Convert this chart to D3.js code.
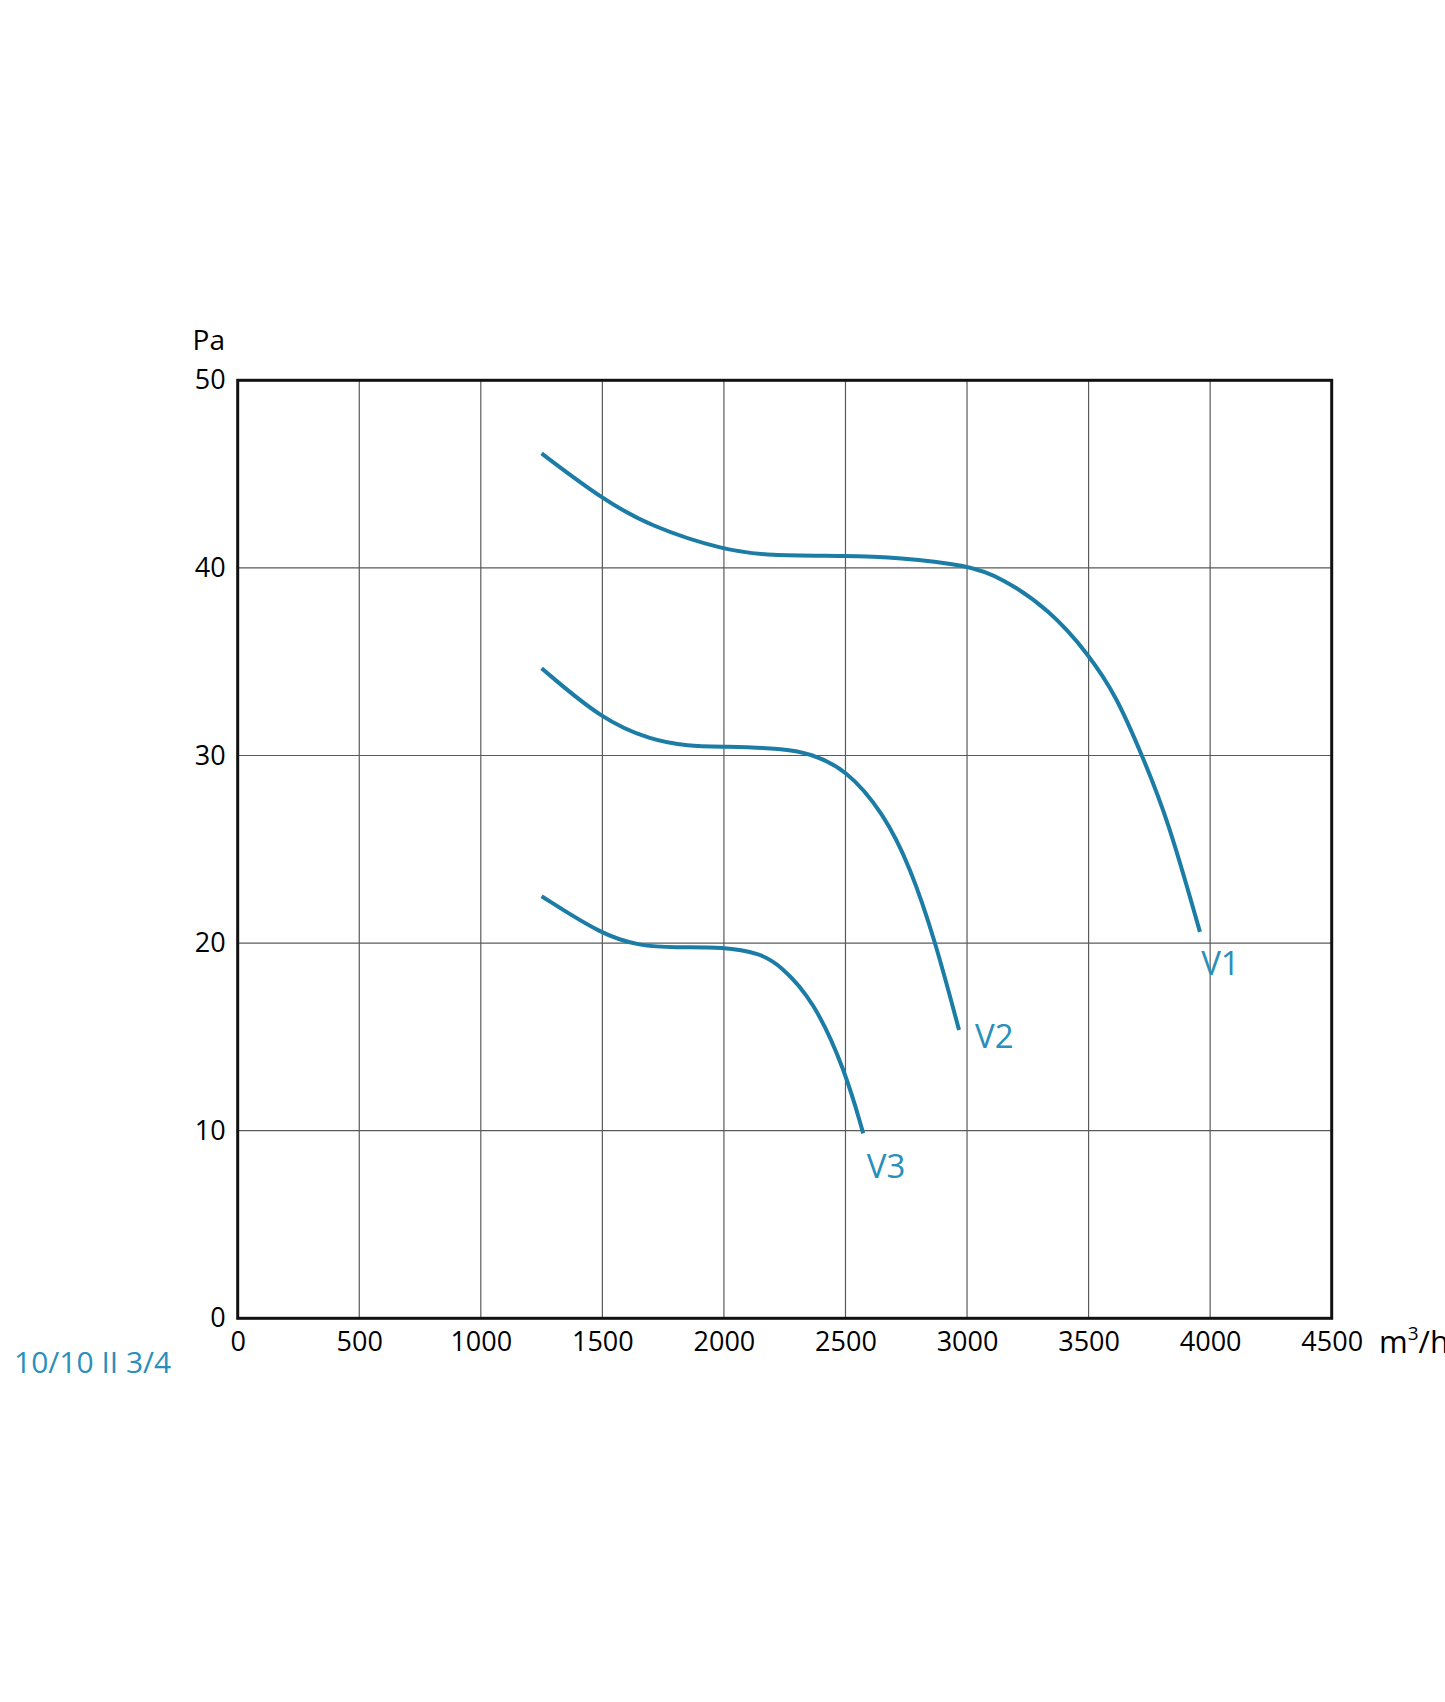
<!DOCTYPE html>
<html>
<head>
<meta charset="utf-8">
<script src="https://cdn.jsdelivr.net/npm/d3@7"></script>
<style>
  html, body { margin: 0; padding: 0; background: #fff; }
  svg { display: block; }
  text { font-family: "Open Sans", "Noto Sans", sans-serif; }
</style>
</head>
<body>
<svg id="chart" width="1445" height="1702"></svg>
<script>
// ---- data ----
const xTicks = [0, 500, 1000, 1500, 2000, 2500, 3000, 3500, 4000, 4500];
const yTicks = [0, 10, 20, 30, 40, 50];
const seriesNames = ["V1", "V2", "V3"];
const v1Flow = [1250, 1500, 1700, 2000, 2180, 2500, 2720, 3000, 3140, 3340, 3500, 3616, 3720, 3825, 3958];
const v1Pa   = [46.1, 43.66, 42.2, 40.95, 40.65, 40.65, 40.56, 40.15, 39.5, 37.76, 35.4, 33.13, 30.0, 26.65, 20.6];
const v2Flow = [1250, 1500, 1700, 1850, 2000, 2245, 2355, 2500, 2656, 2766, 2868, 2967];
const v2Pa   = [34.65, 31.9, 30.83, 30.5, 30.47, 30.38, 30.1, 29.3, 26.95, 24.07, 20.17, 15.37];
const v3Flow = [1250, 1500, 1655, 1795, 2000, 2148, 2231, 2368, 2498, 2573];
const v3Pa   = [22.5, 20.43, 19.85, 19.76, 19.81, 19.46, 18.83, 16.97, 13.24, 9.86];
// label anchor points (data units)
const labelFlow = [3963, 3033, 2588];
const labelPa   = [18.3, 14.4, 7.5];
const yUnit = "Pa";
const modelName = "10/10 II 3/4";

// ---- layout ----
const svg = d3.select("#chart");
const pL = 237.7, pR = 1331.7, pT = 380.3, pB = 1318.3;
const x = d3.scaleLinear().domain([0, 4500]).range([pL, pR]);
const y = d3.scaleLinear().domain([0, 50]).range([pB, pT]);
const lineColor = "#1b7ca5";
const labelColor = "#2a8fba";

// grid
const g = svg.append("g");
g.selectAll(".vg").data(xTicks.slice(1, -1)).enter().append("line")
  .attr("x1", d => x(d)).attr("x2", d => x(d))
  .attr("y1", pT).attr("y2", pB)
  .attr("stroke", "#5a5a5a").attr("stroke-width", 1.2);
g.selectAll(".hg").data(yTicks.slice(1, -1)).enter().append("line")
  .attr("x1", pL).attr("x2", pR)
  .attr("y1", d => y(d)).attr("y2", d => y(d))
  .attr("stroke", "#5a5a5a").attr("stroke-width", 1.2);

// axes labels via d3 axes (no lines)
const xAxis = svg.append("g").attr("transform", `translate(0,${pB})`)
  .call(d3.axisBottom(x).tickValues(xTicks).tickSize(0).tickPadding(14).tickFormat(d3.format("d")));
xAxis.select(".domain").remove();
xAxis.selectAll("text").attr("font-size", 27).attr("fill", "#000")
  .style("font-family", '"Open Sans", sans-serif');

const yAxis = svg.append("g").attr("transform", `translate(${pL},0)`)
  .call(d3.axisLeft(y).tickValues(yTicks).tickSize(0).tickPadding(12).tickFormat(d3.format("d")));
yAxis.select(".domain").remove();
yAxis.selectAll("text").attr("font-size", 27).attr("fill", "#000")
  .style("font-family", '"Open Sans", sans-serif');

// frame
svg.append("rect").attr("x", pL).attr("y", pT)
  .attr("width", pR - pL).attr("height", pB - pT)
  .attr("fill", "none").attr("stroke", "#111").attr("stroke-width", 3);

// curves
const series = [
  v1Flow.map((f, i) => [f, v1Pa[i]]),
  v2Flow.map((f, i) => [f, v2Pa[i]]),
  v3Flow.map((f, i) => [f, v3Pa[i]])
];
const line = d3.line().x(d => x(d[0])).y(d => y(d[1])).curve(d3.curveBasis);
svg.selectAll(".curve").data(series).enter().append("path")
  .attr("d", line).attr("fill", "none")
  .attr("stroke", lineColor).attr("stroke-width", 4).attr("stroke-linecap", "butt");

// series labels
svg.selectAll(".slabel").data(seriesNames).enter().append("text")
  .attr("x", (d, i) => x(labelFlow[i])).attr("y", (d, i) => y(labelPa[i]))
  .attr("font-size", 33).attr("fill", labelColor).text(d => d);

// unit labels
svg.append("text").attr("x", 225).attr("y", 350).attr("text-anchor", "end")
  .attr("font-size", 28).attr("fill", "#000").text(yUnit);
const unit = svg.append("text").attr("x", 1379).attr("y", 1353)
  .attr("font-size", 31).attr("fill", "#000");
unit.append("tspan").text("m");
unit.append("tspan").attr("font-size", 19).attr("dy", -13).text("3");
unit.append("tspan").attr("dy", 13).text("/h");

// model name
svg.append("text").attr("x", 14).attr("y", 1373)
  .attr("font-size", 30).attr("fill", labelColor).text(modelName);
</script>
</body>
</html>
